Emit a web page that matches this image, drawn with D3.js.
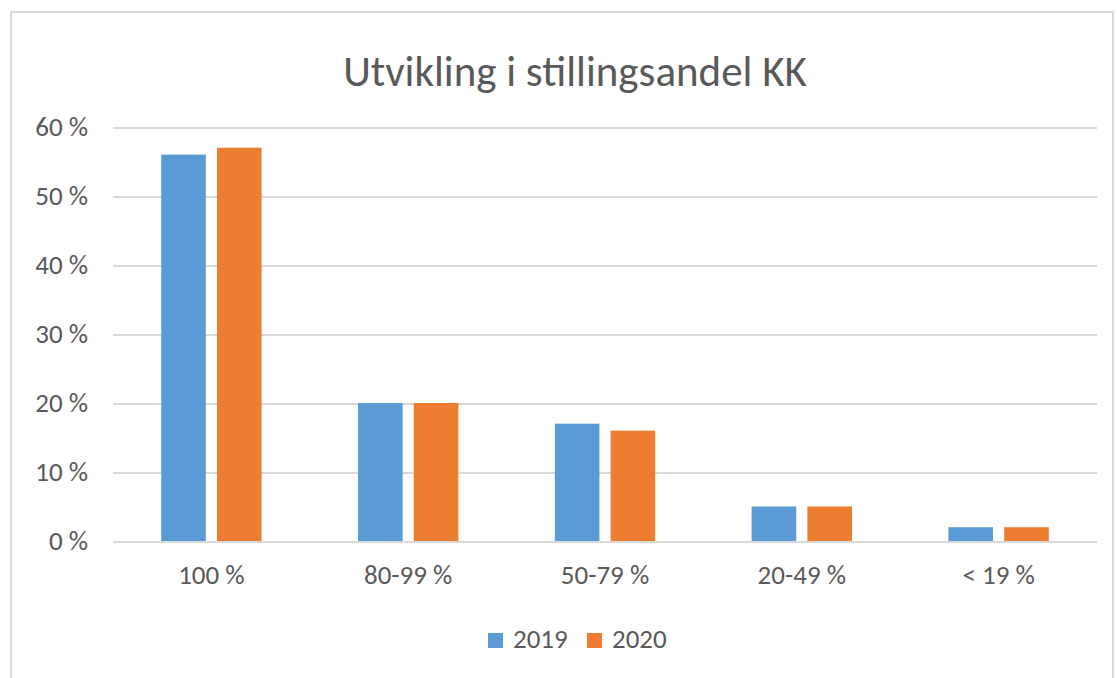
<!DOCTYPE html>
<meta charset="utf-8">
<style>
body {
    margin: 0;
    background: #fff;
}

svg text {
    font-family: Carlito, Lato, "Open Sans", sans-serif;
    fill: #595959;
}

.grid line {
    stroke: #d9d9d9;
    stroke-width: 2px;
    shape-rendering: crispEdges;
}

.grid path {
    display: none;
}
</style>

<body>
    <div id="chart"></div>
    <script src="https://cdnjs.cloudflare.com/ajax/libs/d3/7.8.5/d3.min.js"></script>
    <script>
    var categories = ["100 %", "80-99 %", "50-79 %", "20-49 %", "< 19 %"];
    var seriesNames = ["2019", "2020"];
    var values2019 = [56, 20, 17, 5, 2];
    var values2020 = [57, 20, 16, 5, 2];
    var yTicks = [0, 10, 20, 30, 40, 50, 60];
    var title = "Utvikling i stillingsandel KK";
    var colors = ["#5b9bd5", "#ed7d31"];

    var W = 1117,
        H = 678,
        plot = { left: 113, right: 1097, top: 127, bottom: 541 };

    var svg = d3.select("#chart").append("svg")
        .attr("width", W)
        .attr("height", H);

    // chart frame
    svg.append("rect")
        .attr("x", 11)
        .attr("y", 12)
        .attr("width", 1102)
        .attr("height", 700)
        .attr("fill", "#fff")
        .attr("stroke", "#d9d9d9")
        .attr("stroke-width", 2);

    var x0 = d3.scaleBand()
        .domain(categories)
        .range([plot.left, plot.right])
        .paddingInner(0.49)
        .paddingOuter(0.245);

    var x1 = d3.scaleBand()
        .domain(seriesNames)
        .range([0, x0.bandwidth()])
        .paddingInner(0.2);

    var y = d3.scaleLinear()
        .domain([0, 60])
        .range([plot.bottom, plot.top]);

    var color = d3.scaleOrdinal().domain(seriesNames).range(colors);

    // gridlines
    svg.append("g")
        .attr("class", "grid")
        .attr("transform", "translate(" + plot.left + ",0)")
        .call(d3.axisLeft(y).tickValues(yTicks).tickSize(-(plot.right - plot.left)).tickFormat(""));

    // y labels
    svg.append("g").selectAll("text")
        .data(yTicks)
        .enter().append("text")
        .attr("x", 88)
        .attr("y", function(d) { return y(d); })
        .attr("dy", "0.35em")
        .attr("text-anchor", "end")
        .style("font-size", "27px")
        .text(function(d) { return d + " %"; });

    // bars
    var rows = categories.map(function(c, i) {
        return { cat: c, "2019": values2019[i], "2020": values2020[i] };
    });

    var group = svg.append("g").selectAll("g")
        .data(rows)
        .enter().append("g")
        .attr("transform", function(d) { return "translate(" + x0(d.cat) + ",0)"; });

    group.selectAll("rect")
        .data(function(d) { return seriesNames.map(function(k) { return { key: k, value: d[k] }; }); })
        .enter().append("rect")
        .attr("x", function(d) { return x1(d.key); })
        .attr("y", function(d) { return y(d.value); })
        .attr("width", x1.bandwidth())
        .attr("height", function(d) { return y(0) - y(d.value); })
        .attr("fill", function(d) { return color(d.key); });

    // x labels
    svg.append("g").selectAll("text")
        .data(categories)
        .enter().append("text")
        .attr("x", function(d) { return x0(d) + x0.bandwidth() / 2; })
        .attr("y", 584)
        .attr("text-anchor", "middle")
        .style("font-size", "27px")
        .text(function(d) { return d; });

    // title
    svg.append("text")
        .attr("x", (342 + 808) / 2)
        .attr("y", 86)
        .attr("text-anchor", "middle")
        .style("font-size", "43px")
        .text(title);

    // legend
    var legendX = [488, 587];
    var legend = svg.append("g").selectAll("g")
        .data(seriesNames)
        .enter().append("g")
        .attr("transform", function(d, i) { return "translate(" + legendX[i] + ",633)"; });

    legend.append("rect")
        .attr("width", 15)
        .attr("height", 15)
        .attr("fill", function(d) { return color(d); });

    legend.append("text")
        .attr("x", 25)
        .attr("y", 15)
        .style("font-size", "27px")
        .text(function(d) { return d; });
    </script>
</body>
